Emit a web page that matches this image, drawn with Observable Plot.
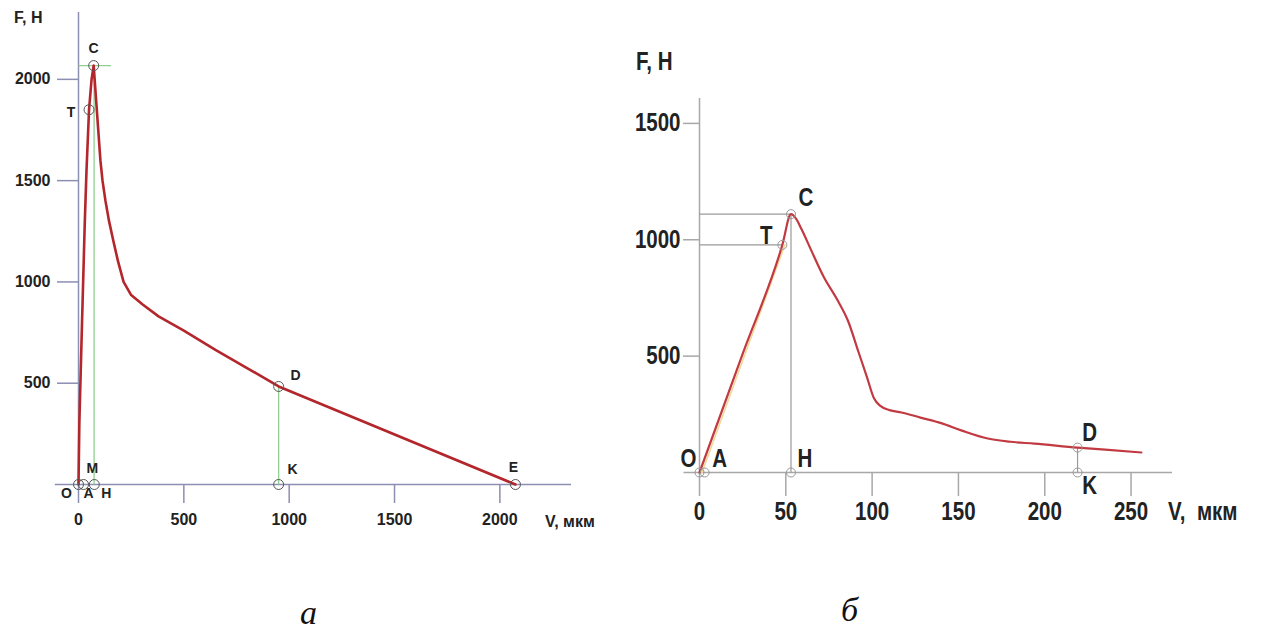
<!DOCTYPE html>
<html><head><meta charset="utf-8">
<script src="https://cdn.jsdelivr.net/npm/d3@7"></script>
<script src="https://cdn.jsdelivr.net/npm/@observablehq/plot@0.6"></script>
<style>
html,body{margin:0;padding:0;background:#fff;}
#wrap{position:relative;width:1261px;height:632px;overflow:hidden;background:#fff;}
#a,#b{position:absolute;top:0;}
#a{left:0px}
#b{left:620px}
.lbl{position:absolute;white-space:nowrap;font-weight:bold;color:#222;line-height:1;}
.la{font-family:"Liberation Sans",Arial,sans-serif;font-size:16px;}
.lb{font-family:"Liberation Sans",Arial,sans-serif;font-size:25px;transform:scaleX(0.82);transform-origin:0 0;}
.cap{position:absolute;font-family:"Liberation Serif","Times New Roman",serif;font-style:italic;font-size:34px;line-height:20px;color:#111;}
</style></head><body>
<div id="wrap">
  <div id="a"></div><div id="b"></div>
  <div class="lbl la" style="left:14px;top:10px">F, H</div>
  <div class="lbl la" style="left:545px;top:514px">V, мкм</div>
  <div class="lbl lb" style="left:636px;top:49px">F, H</div>
  <div class="lbl lb" style="left:1168px;top:499px">V,&nbsp; мкм</div>
  <div class="cap" style="left:300px;top:603px">а</div>
  <div class="cap" style="left:841px;top:600px">б</div>
</div>
<script>
// ---------- Chart а ----------
const aXTicks = [0, 500, 1000, 1500, 2000];
const aYTicks = [500, 1000, 1500, 2000];
const aCurveV = [0, 4, 17, 30, 38, 50, 62, 72, 104, 114, 128, 145, 166, 188, 214, 250, 303, 380, 500, 650, 800, 950, 2074];
const aCurveF = [0, 300, 810, 1300, 1550, 1850, 2000, 2068, 1600, 1500, 1400, 1300, 1200, 1100, 1000, 935, 890, 830, 760, 665, 575, 484, 0];
const aPointNames = ["O", "A", "H", "T", "C", "D", "K", "E"];
const aPointV = [0, 24, 75, 50, 72, 950, 950, 2074];
const aPointF = [0, 0, 0, 1850, 2068, 484, 0, 0];
const aLabelNames = ["O", "A", "H", "M", "T", "C", "D", "K", "E"];
const aLabelAt = ["O", "A", "H", "H", "T", "C", "D", "K", "E"];
// guide lines (green)
const aGuideV1 = [74, 0, 950];
const aGuideF1 = [0, 2068, 0];
const aGuideV2 = [74, 155, 950];
const aGuideF2 = [2068, 2068, 484];

// ---------- Chart б ----------
const bXTicks = [0, 50, 100, 150, 200, 250];
const bYTicks = [500, 1000, 1500];
const bCurveV = [0, 25, 48, 53, 56, 59, 65, 72, 80, 86, 92, 97, 101, 105, 110, 117, 128, 140, 152, 167, 180, 194, 219, 235, 256];
const bCurveF = [0, 510, 978, 1110, 1090, 1047, 950, 840, 740, 652, 520, 410, 320, 285, 268, 258, 236, 212, 180, 146, 132, 124, 107, 98, 86];
const bPointNames = ["O", "A", "H", "T", "C", "D", "K"];
const bPointV = [0, 3, 53, 48, 53, 219, 219];
const bPointF = [0, 0, 0, 978, 1110, 107, 0];
const bLabelNames = ["O", "A", "H", "T", "C", "D", "K"];
const bGuideV1 = [0, 0, 53, 219];
const bGuideF1 = [1110, 978, 0, 0];
const bGuideV2 = [53, 48, 53, 219];
const bGuideF2 = [1110, 978, 1110, 107];

// ---------- styles / offsets ----------
const aOff = {O:[-12,9], A:[5,9], H:[12,9], M:[-2,-16], T:[-18,3], C:[0,-17], D:[17,-11], K:[14,-15], E:[-2,-17]};
const bOff = {O:[-11,-14], A:[15,-14], H:[14,-14], T:[-16,-9], C:[15,-16], D:[12,-15], K:[12,13]};

function rows(names, vs, fs) { return names.map((n, i) => ({name: n, v: vs[i], f: fs[i]})); }
function segs(v1, f1, v2, f2) { return v1.map((d, i) => ({v1: d, f1: f1[i], v2: v2[i], f2: f2[i]})); }

// Chart а
{
  const curve = aCurveV.map((v, i) => ({v, f: aCurveF[i]}));
  const pts = rows(aPointNames, aPointV, aPointF);
  const ptByName = Object.fromEntries(pts.map(p => [p.name, p]));
  const guides = segs(aGuideV1, aGuideF1, aGuideV2, aGuideF2);
  const axisColor = "#8c8eb2";
  const labelMarks = aLabelNames.map((n, i) => {
    const p = ptByName[aLabelAt[i]];
    return Plot.text([{...p, label: n}], {x: "v", y: "f", text: "label", dx: aOff[n][0], dy: aOff[n][1], fontSize: 14, fontWeight: "bold", fill: "#222"});
  });
  const chart = Plot.plot({
    width: 620, height: 560,
    marginLeft: 78, marginRight: 49, marginTop: 12, marginBottom: 76,
    x: {domain: [0, 2340]},
    y: {domain: [0, 2330]},
    style: {fontFamily: "'Liberation Sans', Arial, sans-serif", background: "transparent", overflow: "visible"},
    marks: [
      Plot.ruleY([0], {x1: -110, x2: 2340, stroke: axisColor, strokeWidth: 1.5}),
      Plot.ruleX([0], {y1: 0, y2: 2330, stroke: axisColor, strokeWidth: 1.5}),
      Plot.axisX(aXTicks, {anchor: "bottom", tickSize: 19, tickPadding: 10, tickFormat: d => String(d), fontSize: 16, fontWeight: "bold", stroke: axisColor, strokeWidth: 1.5, fill: "#222", label: null}),
      Plot.axisY(aYTicks, {anchor: "left", tickSize: 21, tickPadding: 7, tickFormat: d => String(d), fontSize: 16, fontWeight: "bold", stroke: axisColor, strokeWidth: 1.5, fill: "#222", label: null}),
      Plot.link(guides, {x1: "v1", y1: "f1", x2: "v2", y2: "f2", stroke: "#8fcf8f", strokeWidth: 1.3}),
      Plot.line(curve, {x: "v", y: "f", stroke: "#b3262b", strokeWidth: 2.6, strokeLinejoin: "round"}),
      Plot.dot(pts, {x: "v", y: "f", r: 5, fill: "none", stroke: "#555", strokeWidth: 1}),
      ...labelMarks
    ]
  });
  document.getElementById("a").appendChild(chart);
}

// Chart б
{
  const curve = bCurveV.map((v, i) => ({v, f: bCurveF[i]}));
  const pts = rows(bPointNames, bPointV, bPointF);
  const ptByName = Object.fromEntries(pts.map(p => [p.name, p]));
  const guides = segs(bGuideV1, bGuideF1, bGuideV2, bGuideF2);
  const axisColor = "#a8a8a8";
  const labelMarks = bLabelNames.map(n => {
    const p = ptByName[n];
    return Plot.text([{...p, label: n}], {x: "v", y: "f", text: "label", dx: bOff[n][0], dy: bOff[n][1], fontSize: 25, fontWeight: "bold", fill: "#222"});
  });
  const rise = curve.filter(d => d.v <= 48);
  const chart = Plot.plot({
    width: 641, height: 560,
    marginLeft: 79, marginRight: 89, marginTop: 98, marginBottom: 88,
    x: {domain: [0, 274]},
    y: {domain: [0, 1607]},
    style: {fontFamily: "'Liberation Sans', Arial, sans-serif", background: "transparent", overflow: "visible"},
    marks: [
      Plot.ruleY([0], {x1: -9, x2: 274, stroke: axisColor, strokeWidth: 1.5}),
      Plot.ruleX([0], {y1: 0, y2: 1607, stroke: axisColor, strokeWidth: 1.5}),
      Plot.axisX(bXTicks, {anchor: "bottom", tickSize: 24, tickPadding: 6, tickFormat: d => String(d), fontSize: 25, fontWeight: "bold", stroke: axisColor, strokeWidth: 1.5, fill: "#222", label: null}),
      Plot.axisY(bYTicks, {anchor: "left", tickSize: 16, tickPadding: 3, tickFormat: d => String(d), fontSize: 25, fontWeight: "bold", stroke: axisColor, strokeWidth: 1.5, fill: "#222", label: null}),
      Plot.link(guides, {x1: "v1", y1: "f1", x2: "v2", y2: "f2", stroke: "#9a9a9a", strokeWidth: 1.2}),
      Plot.line(rise, {x: "v", y: "f", stroke: "#f1d79a", strokeWidth: 1.6, dx: 2.5}),
      Plot.line(curve, {x: "v", y: "f", curve: "monotone-x", stroke: "#c13a42", strokeWidth: 2.2, strokeLinejoin: "round"}),
      Plot.dot(pts, {x: "v", y: "f", r: 4.5, fill: "none", stroke: "#999", strokeWidth: 1}),
      ...labelMarks
    ]
  });
  document.getElementById("b").appendChild(chart);
  // condensed look of the narrow bold face in the reference
  chart.querySelectorAll("text").forEach(t => {
    const L = t.getComputedTextLength();
    if (L > 0) {
      t.setAttribute("textLength", (L * 0.82).toFixed(2));
      t.setAttribute("lengthAdjust", "spacingAndGlyphs");
    }
  });
}
</script>
</body></html>
